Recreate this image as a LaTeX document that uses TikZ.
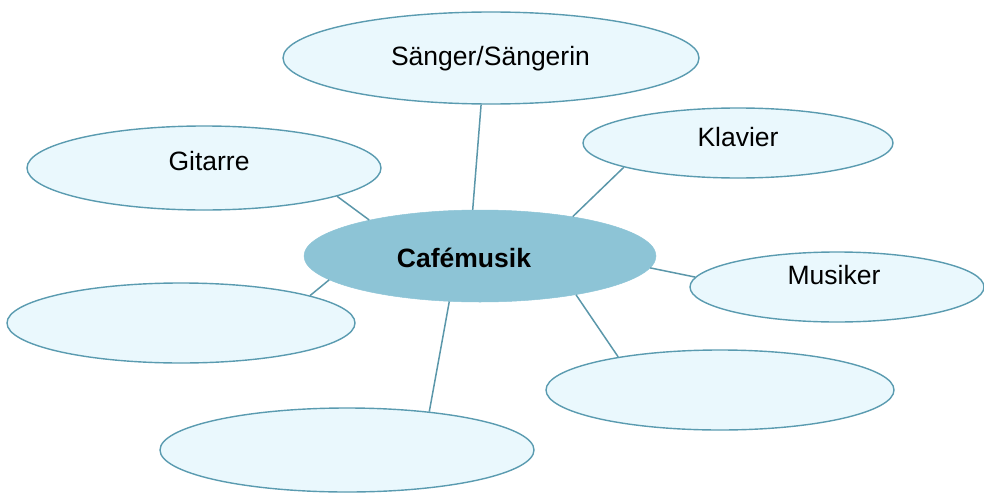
\documentclass[tikz,border=0pt]{standalone}
\usepackage{fontspec}
\setmainfont{Liberation Sans}
\usetikzlibrary{shapes.geometric}
\definecolor{outerfill}{HTML}{EAF8FD}
\definecolor{outerline}{HTML}{5A9BB0}
\definecolor{hubfill}{HTML}{8DC4D6}
\definecolor{linkcol}{HTML}{5B97AA}
\begin{document}
\begin{tikzpicture}[x=1pt,y=-1pt,
  bubble/.style={ellipse,draw=outerline,fill=outerfill,line width=1.4pt,inner sep=0pt},
  hub/.style={ellipse,fill=hubfill,draw=hubfill,line width=0.5pt,inner sep=0pt},
  lbl/.style={anchor=base,inner sep=0pt,font=\fontsize{26.5}{30}\selectfont},
  link/.style={draw=linkcol,line width=1.5pt}]
\useasboundingbox (0,0) rectangle (984,495);
\node[hub,minimum width=352pt,minimum height=92pt] (C) at (480,256) {};
\node[bubble,minimum width=416pt,minimum height=92pt] (S) at (491,58) {};
\node[bubble,minimum width=310pt,minimum height=70pt] (K) at (738,143) {};
\node[bubble,minimum width=354pt,minimum height=84pt] (G) at (204,168) {};
\node[bubble,minimum width=294pt,minimum height=70pt] (M) at (837,287) {};
\node[bubble,minimum width=348pt,minimum height=80pt] (L) at (181,323) {};
\node[bubble,minimum width=348pt,minimum height=80pt] (BR) at (720,390) {};
\node[bubble,minimum width=374pt,minimum height=84pt] (B) at (347,450) {};
\draw[link] (C.99.9) -- (S.258);
\draw[link] (C.23.4) -- (K.192.3);
\draw[link] (C.162.6) -- (G.348.2);
\draw[link] (C.356.4) -- (M.176.4);
\draw[link] (C.189.1) -- (L.12.4);
\draw[link] (C.338.1) -- (BR.162.1);
\draw[link] (C.236.6) -- (B.25.1);
\node[lbl] (tS) at (490.5,65) {Sänger/Sängerin};
\node[lbl] (tK) at (738,146) {Klavier};
\node[lbl] (tG) at (209,170) {Gitarre};
\node[lbl] (tM) at (834,284) {Musiker};
\node[lbl,font=\fontsize{26.5}{30}\selectfont\bfseries] (tC) at (464,267) {Cafémusik};
\end{tikzpicture}
\end{document}
